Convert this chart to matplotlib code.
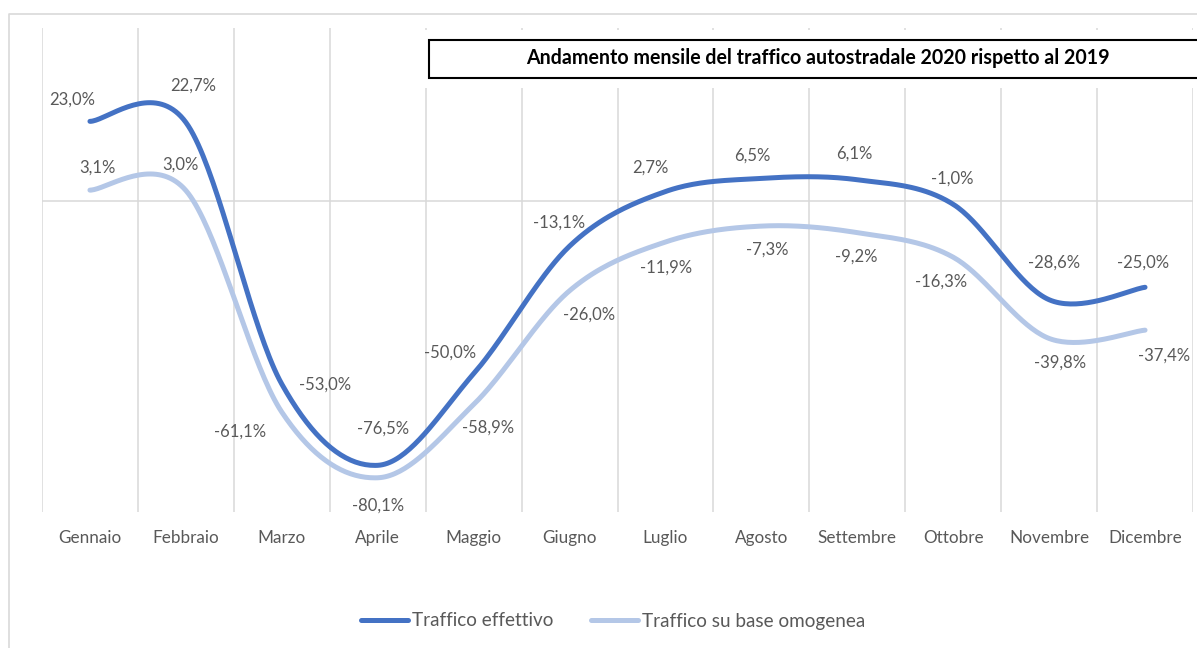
import numpy as np
import matplotlib
matplotlib.use("Agg")
import matplotlib.pyplot as plt
from matplotlib.lines import Line2D
from matplotlib.patches import Rectangle

months = ["Gennaio", "Febbraio", "Marzo", "Aprile", "Maggio", "Giugno",
          "Luglio", "Agosto", "Settembre", "Ottobre", "Novembre", "Dicembre"]
effettivo = [23.0, 22.7, -53.0, -76.5, -50.0, -13.1, 2.7, 6.5, 6.1, -1.0, -28.6, -25.0]
omogenea = [3.1, 3.0, -61.1, -80.1, -58.9, -26.0, -11.9, -7.3, -9.2, -16.3, -39.8, -37.4]
series_names = ["Traffico effettivo", "Traffico su base omogenea"]
title = "Andamento mensile del traffico autostradale 2020 rispetto al 2019"

# label offsets (pixels) relative to the data point
off_eff = [(-18, 22), (7, 37), (43, -1), (5, 37), (-24, 21), (-10, 24),
           (-15, 24), (-9, 23), (-3, 26), (-1, 26), (5, 37), (-2, 25)]
off_omo = [(8, 23), (-5, 26), (-42, -20), (0, -28), (14, -23), (20, -24),
           (1, -26), (6, -24), (-1, -24), (-12, -24), (11, -24), (19, -25)]

DARK = "#4472C4"
LIGHT = "#B4C7E7"
GRID = "#D9D9D9"
TXT = "#595959"
FONT = ["Lato", "DejaVu Sans"]
plt.rcParams["font.family"] = FONT

W, H = 1197, 648
fig = plt.figure(figsize=(W / 100, H / 100), dpi=100)
fig.patch.set_facecolor("white")
ax = fig.add_axes([42 / W, (H - 512) / H, (1193 - 42) / W, 484 / H])
ax.set_xlim(-0.5, 11.5)
ax.set_ylim(-90, 50)
for s in ax.spines.values():
    s.set_visible(False)


def excel_smooth(x, y, n=40):
    x = np.asarray(x, float)
    y = np.asarray(y, float)
    px = np.concatenate([[x[0]], x, [x[-1]]])
    py = np.concatenate([[y[0]], y, [y[-1]]])
    xs, ys = [], []
    t = np.linspace(0, 1, n)
    for i in range(len(x) - 1):
        p0 = np.array([px[i + 1], py[i + 1]])
        p3 = np.array([px[i + 2], py[i + 2]])
        c1 = p0 + (np.array([px[i + 2], py[i + 2]]) - np.array([px[i], py[i]])) / 6
        c2 = p3 - (np.array([px[i + 3], py[i + 3]]) - np.array([px[i + 1], py[i + 1]])) / 6
        b = ((1 - t) ** 3)[:, None] * p0 + (3 * (1 - t) ** 2 * t)[:, None] * c1 \
            + (3 * (1 - t) * t ** 2)[:, None] * c2 + (t ** 3)[:, None] * p3
        xs.append(b[:, 0])
        ys.append(b[:, 1])
    return np.concatenate(xs), np.concatenate(ys)


xi = np.arange(len(months))
ax.set_xticks(xi)
ax.set_xticklabels(months, color=TXT, fontsize=12.3)
ax.set_xticks(np.arange(-0.5, 12, 1), minor=True)
ax.tick_params(axis="x", which="both", length=0, pad=13)
ax.set_yticks([])
ax.grid(True, axis="x", which="minor", color=GRID, lw=1.1, zorder=0)
ax.axhline(0, color=GRID, lw=1.1, zorder=0)

sx, sy = excel_smooth(xi, effettivo)
ax.plot(sx, sy, color=DARK, lw=3.6, solid_capstyle="round", zorder=3)
sx, sy = excel_smooth(xi, omogenea)
ax.plot(sx, sy, color=LIGHT, lw=3.6, solid_capstyle="round", zorder=2)


def fmt(v):
    return f"{v:.1f}".replace(".", ",") + "%"


for vals, offs in ((effettivo, off_eff), (omogenea, off_omo)):
    for i, (v, (dx, dy)) in enumerate(zip(vals, offs)):
        ax.annotate(fmt(v), (i, v), xytext=(dx * 0.72, dy * 0.72),
                    textcoords="offset points", ha="center", va="center",
                    fontsize=12, color=TXT, zorder=5)

# outer chart border
fig.add_artist(Line2D([8.5 / W, 8.5 / W, 1.01], [0, 1 - 14 / H, 1 - 14 / H],
                      transform=fig.transFigure, color=GRID, lw=1.2))

# title box
fig.add_artist(Rectangle((424 / W, 1 - 88 / H), (W - 424) / W + 0.01, 58 / H,
                         transform=fig.transFigure, facecolor="white",
                         edgecolor="none", zorder=5))
fig.add_artist(Rectangle((428.5 / W, 1 - 78 / H), (W - 428) / W + 0.01, 38 / H,
                         transform=fig.transFigure, facecolor="white",
                         edgecolor="black", lw=1.5, zorder=6))
fig.text(818 / W, 1 - 58 / H, title, ha="center", va="center",
         fontsize=14.1, fontweight="bold", color="black", zorder=7)

handles = [Line2D([], [], color=DARK, lw=3.6, solid_capstyle="round"),
           Line2D([], [], color=LIGHT, lw=3.6, solid_capstyle="round")]
leg = fig.legend(handles, series_names, loc="center",
                 bbox_to_anchor=(613 / W, 1 - 621 / H), ncol=2, frameon=False,
                 fontsize=13.6, handlelength=2.5, handletextpad=0.2,
                 columnspacing=2.0)
for t in leg.get_texts():
    t.set_color(TXT)

fig.savefig("out.png", dpi=100, facecolor="white")
